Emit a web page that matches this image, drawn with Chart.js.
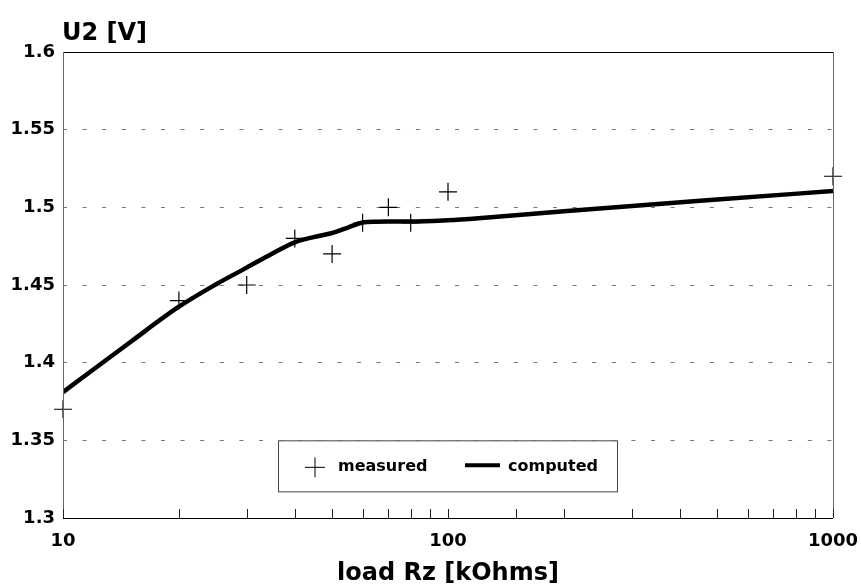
<!DOCTYPE html>
<html>
<head>
<meta charset="utf-8">
<script src="https://cdn.jsdelivr.net/npm/chart.js@4.4.1/dist/chart.umd.min.js"></script>
<style>
  html, body { margin: 0; padding: 0; background: #fff; }
  #wrap { width: 861px; height: 588px; }
</style>
</head>
<body>
<div id="wrap"><canvas id="rzChart"></canvas></div>
<script>
// measured points
const measuredRz = [10, 20, 30, 40, 50, 60, 70, 80, 100, 1000];
const measuredU2 = [1.37, 1.44, 1.45, 1.48, 1.47, 1.49, 1.50, 1.49, 1.51, 1.52];

// computed curve
const computedRz = [10, 15, 20, 25, 30, 35, 40, 45, 50, 55, 60, 65, 70, 80, 100, 120, 200, 500, 1000];
const computedU2 = [1.381, 1.4135, 1.436, 1.4505, 1.4612, 1.4703, 1.4775, 1.481, 1.4835, 1.487, 1.4902, 1.4907, 1.4908, 1.4908, 1.4917, 1.493, 1.4975, 1.505, 1.5105];

const yTicks = [1.3, 1.35, 1.4, 1.45, 1.5, 1.55, 1.6];
const xLabels = [10, 100, 1000];

const fontFam = '"DejaVu Sans", sans-serif';

// frame, minor ticks, title and the boxed legend
const framePlugin = {
  id: 'frame',
  afterDraw(chart) {
    const ctx = chart.ctx;
    const a = chart.chartArea;
    const xs = chart.scales.x;
    ctx.save();
    // borders
    ctx.lineWidth = 1;
    ctx.strokeStyle = '#000';
    ctx.beginPath();
    ctx.moveTo(a.left, a.top + 0.5);
    ctx.lineTo(a.right, a.top + 0.5);
    ctx.moveTo(a.left, a.bottom + 0.5);
    ctx.lineTo(a.right, a.bottom + 0.5);
    ctx.stroke();
    ctx.strokeStyle = '#666';
    ctx.beginPath();
    ctx.moveTo(a.left + 0.5, a.top);
    ctx.lineTo(a.left + 0.5, a.bottom);
    ctx.moveTo(a.right + 0.5, a.top);
    ctx.lineTo(a.right + 0.5, a.bottom);
    ctx.stroke();
    // minor ticks on the bottom axis
    ctx.strokeStyle = '#222';
    ctx.beginPath();
    xs.ticks.forEach(t => {
      const px = Math.round(xs.getPixelForValue(t.value)) + 0.5;
      ctx.moveTo(px, a.bottom);
      ctx.lineTo(px, a.bottom - 9);
    });
    ctx.stroke();
    // y axis title
    ctx.fillStyle = '#000';
    ctx.font = 'bold 24px ' + fontFam;
    ctx.textAlign = 'left';
    ctx.textBaseline = 'alphabetic';
    ctx.fillText('U2 [V]', a.left - 1, a.top - 12);
    // legend box
    const lx = a.left + 215, ly = chart.scales.y.getPixelForValue(1.35);
    const lw = 339, lh = 51;
    ctx.fillStyle = '#fff';
    ctx.fillRect(lx, ly, lw, lh);
    ctx.strokeStyle = '#444';
    ctx.strokeRect(lx + 0.5, ly + 0.5, lw, lh);
    const cy = ly + 27;
    ctx.strokeStyle = '#000';
    ctx.lineWidth = 1;
    ctx.beginPath();
    ctx.moveTo(lx + 27, cy); ctx.lineTo(lx + 47, cy);
    ctx.moveTo(lx + 37, cy - 10); ctx.lineTo(lx + 37, cy + 10);
    ctx.stroke();
    ctx.lineWidth = 4;
    ctx.beginPath();
    ctx.moveTo(lx + 187, cy - 2); ctx.lineTo(lx + 222, cy - 2);
    ctx.stroke();
    ctx.fillStyle = '#000';
    ctx.font = 'bold 16px ' + fontFam;
    ctx.textBaseline = 'middle';
    ctx.fillText('measured', lx + 60, cy);
    ctx.fillText('computed', lx + 230, cy);
    ctx.restore();
  }
};

const ctx = document.getElementById('rzChart').getContext('2d');
const rzChart = new Chart(ctx, {
  type: 'line',
  data: {
    datasets: [{
      label: 'computed',
      data: computedRz.map((x, i) => ({ x: x, y: computedU2[i] })),
      borderColor: '#000',
      borderWidth: 4.5,
      pointRadius: 0,
      cubicInterpolationMode: 'monotone',
      fill: false
    }, {
      label: 'measured',
      data: measuredRz.map((x, i) => ({ x: x, y: measuredU2[i] })),
      showLine: false,
      clip: false,
      pointStyle: 'cross',
      pointRadius: 9,
      pointBorderWidth: 1.2,
      pointBorderColor: '#000',
      pointBackgroundColor: '#000'
    }]
  },
  options: {
    responsive: true,
    maintainAspectRatio: false,
    animation: false,
    layout: { padding: { top: 52, right: 28, left: 0, bottom: 0 } },
    plugins: {
      legend: { display: false },
      tooltip: { enabled: false }
    },
    scales: {
      x: {
        type: 'logarithmic',
        min: 10,
        max: 1000,
        grid: { display: false, drawTicks: false },
        border: { display: false },
        ticks: {
          autoSkip: false,
          maxRotation: 0,
          padding: 13,
          color: '#000',
          font: { family: fontFam, size: 18, weight: 'bold' },
          callback: (v) => xLabels.includes(v) ? String(v) : ''
        },
        title: {
          display: true,
          text: 'load Rz [kOhms]',
          color: '#000',
          font: { family: fontFam, size: 24, weight: 'bold' },
          padding: { top: 0, bottom: 0 }
        },
        afterFit: (s) => { s.height = 70; s.paddingLeft = 0; s.paddingRight = 0; }
      },
      y: {
        min: 1.3,
        max: 1.6,
        afterBuildTicks: (s) => { s.ticks = yTicks.map(v => ({ value: v })); },
        grid: {
          drawTicks: false,
          lineWidth: 1,
          color: (c) => (c.tick && (c.tick.value === 1.3 || c.tick.value === 1.6)) ? 'rgba(0,0,0,0)' : '#777'
        },
        border: { display: false, dash: [4, 15.6] },
        ticks: {
          padding: 8,
          color: '#000',
          font: { family: fontFam, size: 18, weight: 'bold' },
          callback: (v) => String(v)
        },
        afterFit: (s) => { s.width = 63; s.paddingTop = 0; s.paddingBottom = 0; }
      }
    }
  },
  plugins: [framePlugin]
});
</script>
</body>
</html>
